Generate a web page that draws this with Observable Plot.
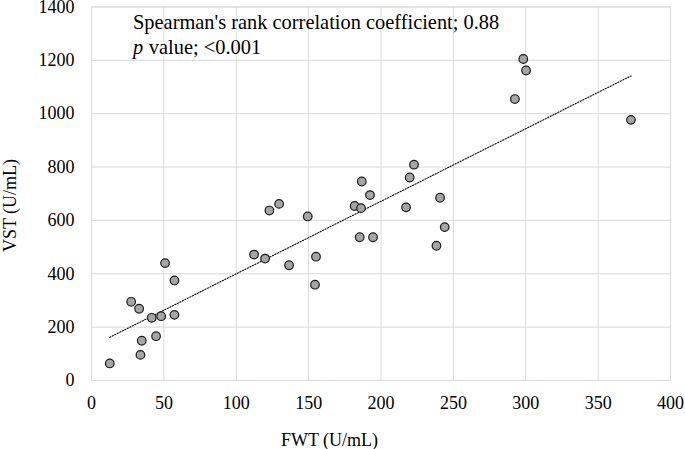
<!DOCTYPE html>
<html>
<head>
<meta charset="utf-8">
<script src="https://cdn.jsdelivr.net/npm/d3@7"></script>
<script src="https://cdn.jsdelivr.net/npm/@observablehq/plot@0.6"></script>
<style>
  html, body { margin: 0; padding: 0; background: #fff; }
  svg text { font-family: "Liberation Serif", "Times New Roman", Times, serif !important; }
</style>
</head>
<body>
<div id="chart"></div>
<script>
const fwt = [12.6, 27.4, 32.9, 34.7, 33.8, 41.6, 48.1, 44.6, 50.8, 57.3, 57.3,
  112.3, 119.9, 136.5, 155.1, 154.4, 122.9, 129.6, 149.4,
  298.3, 300.2, 292.5, 372.7, 222.8, 219.8, 186.7, 192.4, 181.8, 186.2, 217.3,
  240.8, 244.0, 185.3, 194.5, 238.3];
const vst = [64, 295, 269, 149, 96, 235, 241, 166, 440, 375, 246,
  472, 457, 432, 464, 359, 637, 662, 615,
  1205, 1162, 1055, 977, 809, 761, 746, 695, 654, 646, 649,
  685, 575, 537, 537, 505];
const xTicks = [0, 50, 100, 150, 200, 250, 300, 350, 400];
const yTicks = [0, 200, 400, 600, 800, 1000, 1200, 1400];
const xLabel = "FWT (U/mL)";
const yLabel = "VST (U/mL)";
const note1 = "Spearman's rank correlation coefficient; 0.88";
const noteP = "p";
const note2 = "value; <0.001";

const data = fwt.map((x, i) => ({x, y: vst[i]}));
const grid = "#d9d9d9";
const serif = "'Liberation Serif', 'Times New Roman', Times, serif";

const plot = Plot.plot({
  width: 685,
  height: 449,
  marginLeft: 91,
  marginRight: 15,
  marginTop: 6.5,
  marginBottom: 69,
  style: `font-family: ${serif}; font-size: 18px; color: #000; background: #fff;`,
  x: {domain: [0, 400]},
  y: {domain: [0, 1400]},
  marks: [
    Plot.gridX(xTicks, {stroke: grid, strokeOpacity: 1, strokeWidth: 1}),
    Plot.gridY(yTicks, {stroke: grid, strokeOpacity: 1, strokeWidth: 1}),
    Plot.frame({stroke: grid, strokeWidth: 1}),
    Plot.axisX(xTicks, {tickSize: 0, tickPadding: 16, label: null, tickFormat: d => String(d), fontSize: 18, fontFamily: serif, fill: "#000"}),
    Plot.axisY(yTicks, {tickSize: 0, tickPadding: 17, label: null, tickFormat: d => String(d), fontSize: 18, fontFamily: serif, fill: "#000"}),
    Plot.linearRegressionY(data, {x: "x", y: "y", ci: 0, stroke: "#000", strokeWidth: 1.1, strokeDasharray: "1.2,1.6"}),
    Plot.dot(data, {x: "x", y: "y", r: 4.3, fill: "#a5a5a5", stroke: "#1a1a1a", strokeWidth: 1.2}),
    Plot.text([note1], {text: d => d, frameAnchor: "top-left", textAnchor: "start", lineAnchor: "bottom", dx: 41.5, dy: 21.8, fontSize: 20.4, fontFamily: serif, fill: "#000"}),
    Plot.text([noteP], {text: d => d, frameAnchor: "top-left", textAnchor: "start", lineAnchor: "bottom", dx: 41.5, dy: 46.8, fontSize: 20.4, fontFamily: serif, fontStyle: "italic", fill: "#000"}),
    Plot.text([note2], {text: d => d, frameAnchor: "top-left", textAnchor: "start", lineAnchor: "bottom", dx: 57.3, dy: 46.8, fontSize: 20.4, fontFamily: serif, fill: "#000"}),
    Plot.text([xLabel], {text: d => d, frameAnchor: "bottom", textAnchor: "middle", lineAnchor: "bottom", dx: -51.5, dy: 65, fontSize: 18, fontFamily: serif, fill: "#000"}),
    Plot.text([yLabel], {text: d => d, frameAnchor: "left", textAnchor: "middle", lineAnchor: "bottom", rotate: -90, dx: -76, dy: 11.75, fontSize: 18, fontFamily: serif, fill: "#000"})
  ]
});
document.getElementById("chart").appendChild(plot);
</script>
</body>
</html>
